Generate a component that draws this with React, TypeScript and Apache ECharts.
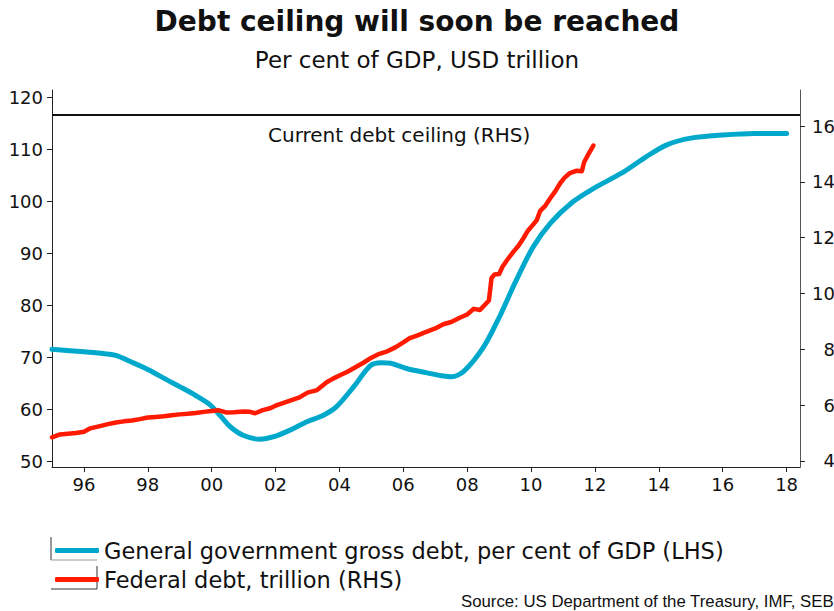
import React, { useEffect, useRef } from "react";
import * as echarts from "echarts";

const TITLE = "Debt ceiling will soon be reached";
const SUBTITLE = "Per cent of GDP, USD trillion";
const SOURCE = "Source: US Department of the Treasury, IMF, SEB";
const CEILING_LABEL = "Current debt ceiling (RHS)";
const BLUE_NAME = "General government gross debt, per cent of GDP (LHS)";
const RED_NAME = "Federal debt, trillion (RHS)";

const X_TICKS = [1996, 1998, 2000, 2002, 2004, 2006, 2008, 2010, 2012, 2014, 2016, 2018];
const LEFT_TICKS = [50, 60, 70, 80, 90, 100, 110, 120];
const RIGHT_TICKS = [4, 6, 8, 10, 12, 14, 16];
const DEBT_CEILING = 16.394;

const blueYears = [
  1995.0, 1996.0, 1996.7, 1997.0, 1997.5, 1998.0, 1998.6, 1999.0, 1999.5, 1999.95,
  2000.3, 2000.6, 2001.0, 2001.5, 2002.0, 2002.4, 2003.0, 2003.5, 2003.9, 2004.45,
  2004.96, 2005.3, 2005.6, 2006.1, 2006.7, 2007.2, 2007.5, 2007.9, 2008.5, 2009.0,
  2009.5, 2010.05, 2010.6, 2011.3, 2011.95, 2012.9, 2013.6, 2014.25, 2015.0, 2016.0,
  2017.0, 2018.0,
];
const blueValues = [
  71.5, 71.0, 70.6, 70.3, 69.0, 67.6, 65.6, 64.3, 62.6, 60.8,
  58.5, 56.5, 54.9, 54.2, 54.8, 55.8, 57.6, 58.8, 60.4, 64.3,
  68.3, 68.9, 68.8, 67.8, 67.0, 66.4, 66.2, 67.3, 71.8, 77.6,
  84.3, 91.0, 95.7, 99.8, 102.4, 105.6, 108.5, 110.8, 112.1, 112.7,
  113.0, 113.0,
];

const redYears = [
  1995.0, 1995.25, 1995.5, 1995.75, 1996.0, 1996.2, 1996.5, 1996.75, 1997.0, 1997.25,
  1997.5, 1997.75, 1998.0, 1998.25, 1998.5, 1998.75, 1999.0, 1999.25, 1999.5, 1999.75,
  2000.0, 2000.2, 2000.45, 2000.7, 2001.0, 2001.2, 2001.36, 2001.6, 2001.83, 2002.0,
  2002.25, 2002.5, 2002.75, 2003.0, 2003.3, 2003.6, 2003.8, 2004.0, 2004.25, 2004.5,
  2004.75, 2005.0, 2005.25, 2005.5, 2005.75, 2006.0, 2006.2, 2006.45, 2006.7, 2007.0,
  2007.25, 2007.5, 2007.75, 2008.0, 2008.2, 2008.4, 2008.6, 2008.68, 2008.76, 2008.85,
  2009.0, 2009.1, 2009.25, 2009.45, 2009.6, 2009.76, 2009.9, 2010.05, 2010.18, 2010.28,
  2010.45, 2010.6, 2010.75, 2010.91, 2011.05, 2011.2, 2011.43, 2011.59, 2011.66, 2011.8,
  2011.95,
];
const redValues = [
  4.85, 4.95, 4.98, 5.0, 5.05, 5.17, 5.25, 5.32, 5.38, 5.42,
  5.45, 5.5, 5.56, 5.58, 5.6, 5.64, 5.67, 5.69, 5.72, 5.76,
  5.79, 5.82, 5.74, 5.75, 5.77, 5.76, 5.71, 5.82, 5.89, 5.98,
  6.08, 6.18, 6.28, 6.45, 6.54, 6.82, 6.95, 7.06, 7.2, 7.36,
  7.52, 7.7, 7.84, 7.93, 8.07, 8.25, 8.4, 8.5, 8.62, 8.75,
  8.9, 8.98, 9.12, 9.25, 9.45, 9.41, 9.65, 9.75, 10.55, 10.68,
  10.7, 10.95, 11.2, 11.5, 11.7, 11.98, 12.25, 12.45, 12.63, 12.95,
  13.15, 13.41, 13.65, 13.95, 14.15, 14.3, 14.4, 14.38, 14.7, 15.0,
  15.3,
];

const FONT = "DejaVu Sans";
const BLUE = "#00A9CC";
const RED = "#FF1A00";

export default function App() {
  const ref = useRef<HTMLDivElement>(null);
  useEffect(() => {
    if (!ref.current) return;
    const chart = echarts.init(ref.current, undefined, { renderer: "svg" });
    const axisLine = { show: true, lineStyle: { color: "#222", width: 1 } };
    const axisTick = { show: true, length: 5, lineStyle: { color: "#222" } };
    chart.setOption({
      animation: false,
      backgroundColor: "#fff",
      grid: {
        left: 52,
        right: 34,
        top: 90,
        height: 377,
        containLabel: false,
        outerBoundsMode: "none",
      },
      xAxis: {
        type: "value",
        min: 1995,
        max: 2018.42,
        axisLine,
        axisTick: { ...axisTick, customValues: X_TICKS },
        splitLine: { show: false },
        axisLabel: {
          customValues: X_TICKS,
          formatter: (v: number) => String(Math.round(v) % 100).padStart(2, "0"),
          fontFamily: FONT,
          fontSize: 18,
          color: "#111",
          margin: 8,
        },
      },
      yAxis: [
        {
          type: "value",
          min: 48.85,
          max: 121.35,
          position: "left",
          axisLine,
          axisTick: { ...axisTick, customValues: LEFT_TICKS },
          splitLine: { show: false },
          axisLabel: {
            customValues: LEFT_TICKS,
            fontFamily: FONT,
            fontSize: 18,
            color: "#111",
            margin: 9,
          },
        },
        {
          type: "value",
          min: 3.785,
          max: 17.29,
          position: "right",
          axisLine: { show: true, lineStyle: { color: "#555", width: 1 } },
          axisTick: { ...axisTick, customValues: RIGHT_TICKS },
          splitLine: { show: false },
          axisLabel: {
            customValues: RIGHT_TICKS,
            fontFamily: FONT,
            fontSize: 18,
            color: "#111",
            align: "right",
            margin: 35,
          },
        },
      ],
      legend: {
        orient: "vertical",
        left: 50,
        top: 534,
        itemGap: 6,
        itemWidth: 44,
        itemHeight: 5,
        icon: "roundRect",
        textStyle: { fontFamily: FONT, fontSize: 22.5, color: "#111", lineHeight: 23 },
        data: [BLUE_NAME, RED_NAME],
      },
      graphic: [
        {
          type: "text",
          left: "center",
          top: 7,
          style: { text: TITLE, fontFamily: FONT, fontSize: 28, fontWeight: "bold", fill: "#111" },
        },
        {
          type: "text",
          left: "center",
          top: 48,
          style: { text: SUBTITLE, fontFamily: FONT, fontSize: 23, fill: "#111" },
        },
        {
          type: "text",
          x: 268,
          y: 135,
          style: { text: CEILING_LABEL, fontFamily: FONT, fontSize: 20, fill: "#111", verticalAlign: "middle" },
        },
        {
          type: "text",
          right: 0,
          top: 593,
          style: { text: SOURCE, fontFamily: "Liberation Sans", fontSize: 16.8, fill: "#111" },
        },
        { type: "line", shape: { x1: 51, y1: 537, x2: 51, y2: 560 }, style: { stroke: "#333", lineWidth: 1 } },
        { type: "line", shape: { x1: 51, y1: 560, x2: 97, y2: 560 }, style: { stroke: "#999", lineWidth: 1 } },
        { type: "line", shape: { x1: 97, y1: 566, x2: 97, y2: 589 }, style: { stroke: "#333", lineWidth: 1 } },
        { type: "line", shape: { x1: 51, y1: 589, x2: 97, y2: 589 }, style: { stroke: "#333", lineWidth: 1 } },
      ],
      series: [
        {
          name: BLUE_NAME,
          type: "line",
          yAxisIndex: 0,
          data: blueYears.map((y, i) => [y, blueValues[i]]),
          showSymbol: false,
          smooth: 0.3,
          lineStyle: { color: BLUE, width: 5, cap: "round", join: "round" },
          itemStyle: { color: BLUE },
          z: 2,
        },
        {
          name: RED_NAME,
          type: "line",
          yAxisIndex: 1,
          data: redYears.map((y, i) => [y, redValues[i]]),
          showSymbol: false,
          lineStyle: { color: RED, width: 4.5, cap: "round", join: "round" },
          itemStyle: { color: RED },
          z: 3,
          markLine: {
            silent: true,
            symbol: "none",
            label: { show: false },
            lineStyle: { color: "#111", width: 2, type: "solid" },
            data: [{ yAxis: DEBT_CEILING }],
          },
        },
      ],
    });
    return () => chart.dispose();
  }, []);
  return (
    <div
      ref={ref}
      style={{ position: "absolute", left: 0, top: 0, width: 834, height: 611 }}
    />
  );
}
